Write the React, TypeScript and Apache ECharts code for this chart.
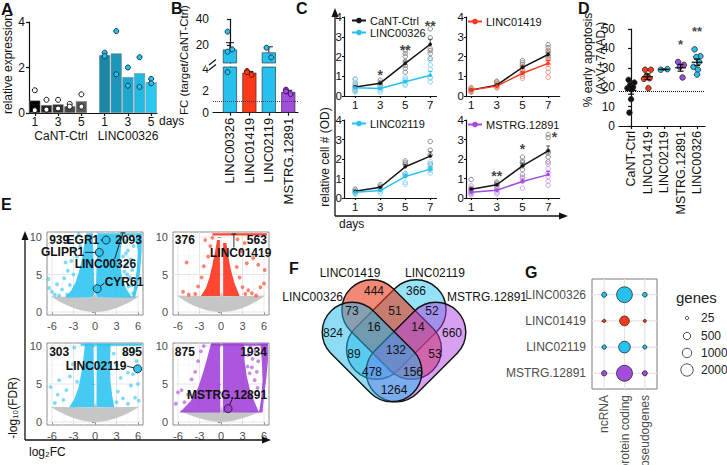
import React, { useEffect, useRef } from 'react';
import * as echarts from 'echarts';

const FONT = '"Liberation Sans", Arial, Helvetica, sans-serif';
const INK = '#111111';
const CYAN = '#27c1ef';
const RED = '#ff3a1c';
const PURPLE = '#a34ddd';

// ---------- A ----------
const aDays = ['1', '2', '3', '4', '5'];
const aCtrlMean = [0.55, 0.35, 0.38, 0.3, 0.52];
const aCtrlRepHigh = [1.0, 0.58, 0.58, 0.4, 0.82];
const aCtrlRepLow = [0.12, 0.15, 0.2, 0.28, 0.28];
const aLincMean = [2.55, 2.62, 1.58, 1.75, 1.35];
const aLincRepHigh = [2.65, 3.6, 2.0, 2.45, 1.5];
const aLincRepLow = [2.5, 1.7, 1.2, 1.15, 1.3];
const aCtrlColors = ['#000000', '#262626', '#333333', '#454545', '#5a5a5a'];
const aLincColors = ['#1a87a5', '#1c97b9', '#1fa8ce', '#23b8e1', '#2ac8f3'];

// ---------- B ----------
const bNames = ['LINC00326', 'LINC01419', 'LINC02119', 'MSTRG.12891'];
const bMean = [16.4, 3.65, 14.2, 1.9];
const bSem = [5.4, 0.12, 4.4, 0.14];
const bReps = [[30.4, 16.6, 14.8, 3.7], [3.8, 3.45, 3.7], [17.9, 10.4], [2.1, 1.7, 1.95]];
const bTicksUpper = [20, 40];
const bTicksLower = [0, 2, 4];

// ---------- C ----------
const cDays = [1, 3, 5, 7];
const cNames = ['LINC00326', 'LINC01419', 'LINC02119', 'MSTRG.12891'];
const c1Ctrl = [0.45, 0.65, 1.65, 2.62];
const c1Lnc = [0.42, 0.38, 0.72, 1.05];
const c1CtrlSem = [0.06, 0.05, 0.12, 0.25];
const c1LncSem = [0.06, 0.04, 0.06, 0.2];
const c1CtrlReps = [[0.85, 0.6, 0.5, 0.45, 0.35, 0.3], [0.8, 0.68, 0.6, 0.55, 0.45], [2.3, 2.15, 2.0, 1.75, 1.55, 1.4, 1.2], [3.4, 2.95, 2.4, 2.3, 2.15, 1.9]];
const c1LncReps = [[0.85, 0.7, 0.5, 0.35, 0.25, 0.2], [0.45, 0.38, 0.3, 0.2], [0.95, 0.85, 0.75, 0.62, 0.55], [1.82, 1.57, 1.35, 0.95, 0.9, 0.72]];
const c1StarPos = [[3, 1.05], [5, 2.35], [7, 3.55]];
const c1StarText = ['*', '**', '**'];

const c2Ctrl = [0.3, 0.55, 1.45, 2.1];
const c2Lnc = [0.3, 0.5, 1.15, 1.65];
const c2CtrlSem = [0.04, 0.05, 0.08, 0.12];
const c2LncSem = [0.04, 0.04, 0.08, 0.15];
const c2CtrlReps = [[0.42, 0.36, 0.3, 0.25, 0.2], [0.75, 0.7, 0.62, 0.55, 0.47], [1.8, 1.7, 1.6, 1.5, 1.35, 1.2], [2.6, 2.45, 2.3, 2.2, 2.05, 1.9]];
const c2LncReps = [[0.4, 0.32, 0.25, 0.2], [0.6, 0.52, 0.45, 0.4], [1.5, 1.32, 1.2, 1.1, 1.0, 0.9], [2.3, 1.95, 1.8, 1.6, 1.4, 1.2, 0.95]];

const c3Ctrl = [0.35, 0.55, 1.6, 2.15];
const c3Lnc = [0.3, 0.38, 1.1, 1.48];
const c3CtrlSem = [0.04, 0.04, 0.12, 0.22];
const c3LncSem = [0.04, 0.04, 0.1, 0.12];
const c3CtrlReps = [[0.45, 0.4, 0.3, 0.25], [0.68, 0.6, 0.5], [1.9, 1.8, 1.72, 1.25, 1.15], [2.9, 2.45, 2.2, 1.74, 1.45]];
const c3LncReps = [[0.35, 0.28, 0.2], [0.45, 0.35, 0.25], [1.25, 1.15, 0.8, 0.7], [1.86, 1.6, 1.55, 1.45, 1.28]];

const c4Ctrl = [0.45, 0.68, 1.65, 2.42];
const c4Lnc = [0.3, 0.4, 0.85, 1.2];
const c4CtrlSem = [0.08, 0.04, 0.14, 0.25];
const c4LncSem = [0.06, 0.04, 0.12, 0.16];
const c4CtrlReps = [[0.95, 0.5, 0.42, 0.32, 0.25], [0.82, 0.75, 0.7, 0.62, 0.55], [2.1, 1.9, 1.8, 1.65, 1.45, 1.2, 1.05], [3.25, 3.1, 2.4, 2.3, 2.1, 1.85]];
const c4LncReps = [[0.62, 0.48, 0.32, 0.22, 0.15], [0.5, 0.4, 0.3, 0.22], [1.2, 1.05, 0.85, 0.5], [1.75, 1.5, 1.3, 1.1, 0.85, 0.65]];
const c4StarPos = [[3, 1.15], [5, 2.5], [7.5, 3.15]];
const c4StarText = ['**', '*', '*'];

// ---------- D ----------
const dNames = ['CaNT-Ctrl', 'LINC01419', 'LINC02119', 'MSTRG.12891', 'LINC00326'];
const dReps = [
  [23.8, 22.4, 21.2, 20, 19.5, 19, 13.8, 6.9],
  [29, 29, 25.9, 24.6, 24.3, 19.5],
  [29, 29.3],
  [33, 31.5, 30.5, 25],
  [39.5, 36, 35.5, 33, 30.5, 29, 26.5],
];
const dStarPos = [[3, 42], [4, 48.5]];
const dStarText = ['*', '**'];
const dBaseline = 18;

// ---------- E ----------
const eCountsDown = [939, 376, 303, 875];
const eCountsUp = [2093, 563, 895, 1934];
const eMajorX = [-6, -3, 0, 3, 6];
const eMinorX = [-4.5, -1.5, 1.5, 4.5];
const eMajorY = [0, 5, 10];
const eMinorY = [2.5, 7.5];
const eGrayTL = [[-6.2, 2.1], [-5, 1.4], [-4, 0.95], [-3, 0.55], [-2, 0.25], [-1, 0.07], [0, 0], [1, 0.07], [2, 0.25], [3, 0.55], [4, 0.95], [5, 1.4], [6.2, 2.1], [0.3, 1.9], [0.02, 2.5], [-0.3, 1.9]];
const eGrayTR = [[-6.2, 2.2], [-5, 1.45], [-4, 0.95], [-3, 0.55], [-2, 0.25], [-1, 0.07], [0, 0], [1, 0.07], [2, 0.25], [3, 0.55], [4, 0.95], [5, 1.45], [6.2, 2.2], [0.3, 2.1], [0.05, 2.7], [-0.2, 2.1]];
const eGrayBL = [[-6.2, 2.0], [-5, 1.35], [-4, 0.9], [-3, 0.52], [-2, 0.24], [-1, 0.07], [0, 0], [1, 0.07], [2, 0.24], [3, 0.52], [4, 0.9], [5, 1.35], [6.2, 2.0], [0.25, 1.9], [0.02, 2.5], [-0.2, 1.9]];
const eGrayBR = [[-6, 1.5], [-5, 1.15], [-4, 0.8], [-3, 0.5], [-2, 0.22], [-1, 0.06], [0, 0], [1, 0.06], [2, 0.22], [3, 0.5], [4, 0.8], [5, 1.15], [6, 1.5], [0.3, 1.3], [0.05, 2.2], [-0.2, 1.3]];
const eTLpolys = [
  [[-0.3, 10.5], [-1.2, 10.5], [-1.5, 9], [-1.8, 7.2], [-2.2, 5.5], [-2.7, 4.0], [-3.3, 2.9], [-4.2, 1.95], [-0.3, 1.95], [-0.08, 2.5]],
  [[0.35, 10.5], [4.0, 10.5], [3.6, 8.5], [3.5, 6.5], [3.8, 4.5], [4.4, 3.0], [5.2, 1.95], [0.3, 1.95], [0.1, 2.5]],
  [[5.6, 10.5], [6.55, 10.5], [6.5, 8], [6.3, 5.5], [6.0, 3.5], [5.6, 1.95], [5.2, 1.95], [5.5, 3.5], [5.8, 5.5], [6.0, 8]],
  [[4.0, 10.2], [5.6, 10.2], [5.6, 10.5], [4.0, 10.5]],
];
const eTRpolys = [
  [[-0.15, 9.6], [-0.55, 9.6], [-0.8, 8.2], [-1.15, 6.5], [-1.6, 4.6], [-2.1, 3.2], [-2.8, 2.15], [-0.15, 2.15]],
  [[0.3, 9.2], [0.75, 9.2], [1.0, 7.5], [1.4, 5.5], [1.9, 3.8], [2.6, 2.15], [0.3, 2.15]],
  [[-1.2, 10.2], [6.4, 10.2], [6.4, 10.5], [-1.2, 10.5]],
];
const eBLpolys = [
  [[-0.2, 10.3], [-1.4, 10.3], [-1.6, 8.5], [-1.9, 6.5], [-2.3, 4.5], [-2.9, 3.0], [-3.6, 1.95], [-0.1, 1.95]],
  [[0.25, 10.3], [2.2, 10.3], [2.1, 8], [2.15, 5.5], [2.4, 3.5], [2.7, 1.95], [0.2, 1.95]],
  [[-2.0, 10.05], [6.55, 10.05], [6.55, 10.35], [-2.0, 10.35]],
];
const eBRpolys = [
  [[-0.15, 10.35], [-1.4, 10.35], [-1.9, 8.5], [-2.5, 6.5], [-3.2, 4.5], [-4.2, 2.8], [-5.3, 1.7], [-5.8, 1.25], [-0.1, 1.25]],
  [[0.3, 10.35], [3.2, 10.35], [3.3, 8], [3.6, 6], [4.1, 4], [4.7, 2.6], [5.3, 1.25], [0.25, 1.25]],
  [[5.5, 10.35], [6.55, 10.35], [6.55, 8], [6.3, 5.5], [6.0, 3.5], [5.8, 1.25], [5.3, 1.25], [5.6, 3], [5.8, 5.5], [5.7, 8]],
  [[-1.4, 10.05], [6.55, 10.05], [6.55, 10.35], [-1.4, 10.35]],
];
const eTLout = [[-6.4, 3.2], [-6.0, 2.7], [-5.6, 2.3], [-5.0, 2.2], [-4.6, 3.0], [-6.5, 4.4], [-4.3, 4.5], [-3.8, 5.5], [-4.1, 6.6], [-3.3, 6.8], [-2.9, 8.2], [-3.6, 9.3], [-2.6, 9.9], [-5.3, 3.7], [-3.5, 3.6], [-2.3, 10.4], [-2.5, 7.4], [-3.0, 5.0], [-3.9, 2.3], [-2.1, 8.8],
  [4.2, 9.5], [4.6, 8.2], [5.0, 7.0], [4.4, 6.3], [5.2, 5.6], [4.9, 4.6], [5.4, 8.8], [3.9, 7.4], [4.8, 9.9], [5.1, 3.6], [4.1, 5.4], [4.7, 3.4], [5.3, 2.5], [4.3, 7.8], [5.6, 9.6], [4.5, 5.0]];
const eTRout = [[-4.8, 6.6], [-5.3, 2.7], [-4.5, 2.3], [-3.6, 2.4], [-3.2, 3.4], [-2.7, 4.6], [-2.4, 6.1], [-1.8, 7.4], [-1.5, 8.8], [-2.2, 9.6], [-1.2, 9.9], [2.6, 4.6], [3.0, 3.3], [3.4, 2.4], [3.8, 2.9], [4.3, 2.5], [4.9, 2.2], [5.5, 3.3], [6.0, 3.8], [6.1, 5.6], [5.2, 6.3], [3.6, 6.5], [2.8, 8.1], [3.3, 9.2], [4.5, 7.2], [2.2, 6.0], [2.3, 9.7]];
const eBLout = [[-6.2, 4.6], [-5.6, 2.5], [-5.2, 3.6], [-5.0, 5.5], [-4.4, 2.9], [-4.0, 4.2], [-3.5, 6.0], [-3.1, 7.6], [-2.9, 9.8], [-2.5, 5.3], [3.0, 2.6], [3.2, 4.0], [3.6, 5.8], [3.9, 3.1], [4.2, 8.9], [4.6, 2.4], [5.0, 4.8], [5.3, 6.3], [5.6, 3.2], [5.8, 8.0], [6.1, 2.8], [6.0, 5.0], [2.6, 9.0], [3.0, 7.5], [4.6, 6.5], [5.5, 9.3]];
const eBRout = [[-6.3, 2.4], [-6.0, 3.9], [-5.5, 4.2], [-5.1, 2.6], [-4.6, 3.6], [-4.1, 5.6], [-3.6, 6.6], [-3.2, 8.0], [-2.8, 9.3], [-2.4, 10.0], [4.3, 7.2], [4.7, 5.5], [5.1, 4.5], [5.2, 8.0], [4.8, 9.3], [4.1, 9.9], [3.8, 8.8], [4.0, 6.4], [4.4, 8.3], [5.0, 6.6], [3.7, 7.3]];
const eAnnoGene = ['EGR1', 'GLIPR1', 'LINC00326', 'CYR61', 'LINC01419', 'LINC02119', 'MSTRG.12891'];
const eAnnoPanel = [0, 0, 0, 0, 1, 2, 3];
const eAnnoPoint = [[1.55, 9.6], [0.6, 7.95], [3.9, 10.55], [0.3, 3.1], [1.8, 10.4], [5.95, 7.0], [1.0, 1.75]];
const eAnnoLineEnd = [[0.8, 9.6], [-1.4, 7.95], [2.75, 7.1], [1.3, 3.85], [1.8, 8.6], [4.45, 7.35], [1.55, 3.0]];
const eAnnoLabel = [[0.6, 9.6], [-1.5, 7.95], [1.45, 6.4], [1.35, 3.95], [2.75, 7.85], [4.4, 7.4], [0.85, 3.6]];
const eAnnoAlign = ['right', 'right', 'center', 'left', 'center', 'right', 'center'];
const eAnnoCircle = [true, true, false, true, false, true, true];

// ---------- F ----------
const vennNames = ['LINC00326', 'LINC01419', 'LINC02119', 'MSTRG.12891'];
const vennCounts = [824, 444, 366, 660, 73, 51, 52, 16, 14, 89, 132, 53, 478, 156, 1264];

// ---------- G ----------
const gRows = ['MSTRG.12891', 'LINC02119', 'LINC01419', 'LINC00326'];
const gCols = ['ncRNA', 'protein coding', 'pseudogenes'];
const gGenes = [[180, 3700, 145], [80, 1750, 60], [20, 1100, 10], [150, 3600, 115]];
const gLegendVals = [25, 500, 1000, 2000];

const gSize = (n: number) => 2.3 + 0.224 * Math.sqrt(n);

function buildOption() {
  const grid: any[] = [];
  const xAxis: any[] = [];
  const yAxis: any[] = [];
  const series: any[] = [];
  const legend: any[] = [];
  const graphic: any[] = [];
  const add = (g: any, x: any, y: any) => {
    grid.push({ outerBoundsMode: 'none', containLabel: false, ...g });
    const i = grid.length - 1;
    xAxis.push({ gridIndex: i, ...x });
    yAxis.push({ gridIndex: i, ...y });
    return i;
  };
  const lbl = (o: any = {}) => ({ color: INK, fontSize: 11.5, fontFamily: FONT, ...o });
  const bLine = { show: true, lineStyle: { color: INK, width: 1.2 } };
  const bTick = (o: any = {}) => ({ show: true, length: 3, lineStyle: { color: INK, width: 1.2 }, ...o });
  const noSplit = { show: false };

  const T = (text: string, x: number, y: number, o: any = {}) => ({
    type: 'text', x, y, rotation: o.rot || 0, silent: true, z: 10,
    style: {
      text, fill: o.fill || INK, fontSize: o.size || 12, fontWeight: o.weight || 'normal', fontFamily: FONT,
      align: o.align || 'left', verticalAlign: 'middle', textAlign: o.align || 'left', textVerticalAlign: 'middle',
    },
  });
  const L = (x1: number, y1: number, x2: number, y2: number, w = 1.2, c = INK) => ({
    type: 'line', silent: true, z: 10, shape: { x1, y1, x2, y2 }, style: { stroke: c, lineWidth: w },
  });
  const P = (pts: number[][], c = INK) => ({ type: 'polygon', silent: true, z: 10, shape: { points: pts }, style: { fill: c } });

  const errSeries = (gi: number, data: number[][], color: string, cap: number) => ({
    type: 'custom', xAxisIndex: gi, yAxisIndex: gi, z: 4, silent: true, data,
    renderItem: (params: any, api: any) => {
      const x = api.value(0), m = api.value(1), s = api.value(2);
      const a = api.coord([x, m]);
      const b = api.coord([x, m + s]);
      return {
        type: 'group', children: [
          { type: 'line', shape: { x1: a[0], y1: a[1], x2: b[0], y2: b[1] }, style: { stroke: color, lineWidth: 1 } },
          { type: 'line', shape: { x1: b[0] - cap, y1: b[1], x2: b[0] + cap, y2: b[1] }, style: { stroke: color, lineWidth: 1 } },
        ],
      };
    },
  });
  const starSeries = (gi: number, pos: number[][], texts: string[], size = 14) => ({
    type: 'scatter', xAxisIndex: gi, yAxisIndex: gi, symbol: 'circle', symbolSize: 1, silent: true, z: 6,
    itemStyle: { color: 'rgba(0,0,0,0)' }, data: pos,
    label: { show: true, position: 'inside', formatter: (p: any) => texts[p.dataIndex], fontSize: size, fontWeight: 'bold', color: INK, fontFamily: FONT },
  });

  // ================= A =================
  const aCats = [...aDays, '', ...aDays];
  const aShow = (i: number) => aCats[i] === '1' || aCats[i] === '3' || aCats[i] === '5';
  const gA = add({ left: 29, top: 22, width: 128, height: 91 },
    { type: 'category', data: aCats, axisLine: bLine, axisTick: bTick({ alignWithLabel: true, interval: (i: number) => aShow(i) }), axisLabel: lbl({ interval: (i: number) => aShow(i), fontSize: 12, margin: 3 }) },
    { type: 'value', min: 0, max: 4, interval: 2, axisLine: bLine, axisTick: bTick(), axisLabel: lbl({ fontSize: 12, margin: 4 }), splitLine: noSplit });
  series.push({
    type: 'bar', name: 'A-bars', xAxisIndex: gA, yAxisIndex: gA, barCategoryGap: '5%', z: 2,
    data: aCats.map((_, i) => i < 5 ? { value: aCtrlMean[i], itemStyle: { color: aCtrlColors[i] } } : i === 5 ? '-' : { value: aLincMean[i - 6], itemStyle: { color: aLincColors[i - 6] } }),
    itemStyle: { borderColor: '#8a8a8a', borderWidth: 0.5 },
  });
  series.push({
    type: 'scatter', name: 'A-ctrl-dots', xAxisIndex: gA, yAxisIndex: gA, symbolSize: 5, z: 3,
    data: [...aCtrlRepHigh.map((v, i) => [i, v]), ...aCtrlRepLow.map((v, i) => [i, v])],
    itemStyle: { color: '#ffffff', borderColor: INK, borderWidth: 1, opacity: 1 },
  });
  series.push({
    type: 'scatter', name: 'A-linc-dots', xAxisIndex: gA, yAxisIndex: gA, symbolSize: 5, z: 3,
    data: [...aLincRepHigh.map((v, i) => [i + 6, v]), ...aLincRepLow.map((v, i) => [i + 6, v])],
    itemStyle: { color: CYAN, borderColor: '#0d3c4c', borderWidth: 1, opacity: 1 },
  });

  // ================= B =================
  const bColors = [CYAN, RED, CYAN, PURPLE];
  const bBorders = ['#0b3b4b', '#6b1000', '#0b3b4b', '#3c0f5c'];
  const bx = { type: 'value', min: -0.87, max: 3.5 };
  const gBu = add({ left: 213, top: 19.3, width: 85, height: 43.7 },
    { ...bx, show: false },
    { type: 'value', min: 6, max: 40, axisLine: bLine, axisTick: bTick({ customValues: bTicksUpper }), axisLabel: lbl({ customValues: bTicksUpper, fontSize: 12, margin: 4 }), splitLine: noSplit });
  const gBl = add({ left: 213, top: 67, width: 85, height: 45.7 },
    { ...bx, axisLine: bLine, axisTick: bTick({ customValues: [0, 1, 2, 3] }), axisLabel: lbl({ customValues: [0, 1, 2, 3], formatter: (v: number) => bNames[Math.round(v)] || '', rotate: 90, fontSize: 13, margin: 5 }), splitLine: noSplit },
    { type: 'value', min: 0, max: 4.17, axisLine: bLine, axisTick: bTick({ customValues: bTicksLower }), axisLabel: lbl({ customValues: bTicksLower, fontSize: 12, margin: 4 }), splitLine: noSplit });
  [gBu, gBl].forEach((gi, k) => {
    series.push({
      type: 'bar', name: 'B-bars-' + k, xAxisIndex: gi, yAxisIndex: gi, barWidth: 14, clip: true, z: 2,
      data: bMean.map((v, i) => ({ value: [i, v], itemStyle: { color: bColors[i] } })),
      itemStyle: { borderColor: '#222', borderWidth: 0.6 },
      markLine: k === 1 ? { silent: true, symbol: 'none', label: { show: false }, lineStyle: { type: 'dotted', color: '#444', width: 1 }, data: [{ yAxis: 1 }] } : undefined,
    });
    const lim = (v: number) => (k === 0 ? v > 6 : v <= 4.17);
    series.push(errSeries(gi, bMean.map((m, i) => [i, m, bSem[i]]).filter((d) => lim(d[1])), INK, 4));
    bReps.forEach((reps, i) => {
      series.push({
        type: 'scatter', name: 'B-dots', xAxisIndex: gi, yAxisIndex: gi, symbolSize: 5, z: 5,
        data: reps.filter(lim).map((v, j) => [i + (j % 2 === 0 ? -0.12 : 0.12), v]),
        itemStyle: { color: bColors[i], borderColor: bBorders[i], borderWidth: 1, opacity: 1 },
      });
    });
  });

  // ================= C =================
  const cCtrl = [c1Ctrl, c2Ctrl, c3Ctrl, c4Ctrl];
  const cLnc = [c1Lnc, c2Lnc, c3Lnc, c4Lnc];
  const cCtrlSem = [c1CtrlSem, c2CtrlSem, c3CtrlSem, c4CtrlSem];
  const cLncSem = [c1LncSem, c2LncSem, c3LncSem, c4LncSem];
  const cCtrlReps = [c1CtrlReps, c2CtrlReps, c3CtrlReps, c4CtrlReps];
  const cLncReps = [c1LncReps, c2LncReps, c3LncReps, c4LncReps];
  const cColors = [CYAN, RED, CYAN, PURPLE];
  const cLight = ['#86d9f6', '#ff9282', '#86d9f6', '#d59cf0'];
  const cBox = [
    { left: 344, top: 17, width: 92.5, height: 79, min: 0.1, max: 7.5 },
    { left: 466, top: 17, width: 93.7, height: 79, min: 0.6, max: 7.9 },
    { left: 344, top: 120, width: 92.5, height: 78, min: 0.1, max: 7.5 },
    { left: 466, top: 120, width: 93.7, height: 78, min: 0.6, max: 7.9 },
  ];
  const cLegendPos = [[351, 15], [467, 16], [351, 118], [467, 119]];
  cBox.forEach((b, k) => {
    const gi = add({ left: b.left, top: b.top, width: b.width, height: b.height },
      { type: 'value', min: b.min, max: b.max, axisLine: bLine, axisTick: bTick({ length: 2, customValues: cDays }), axisLabel: lbl({ customValues: cDays, fontSize: 11.5, margin: 3 }), splitLine: noSplit },
      { type: 'value', min: 0, max: 4, interval: 1, axisLine: bLine, axisTick: bTick({ length: 2 }), axisLabel: lbl({ fontSize: 11.5, margin: 2 }), splitLine: noSplit });
    const flat = (reps: number[][]) => reps.flatMap((arr, d) => arr.map((v) => [cDays[d], v]));
    series.push({ type: 'scatter', name: 'C-ctrl-reps', xAxisIndex: gi, yAxisIndex: gi, symbolSize: 4.5, z: 2, data: flat(cCtrlReps[k]), itemStyle: { color: 'rgba(0,0,0,0)', borderColor: '#8a8a8a', borderWidth: 1, opacity: 1 } });
    series.push({ type: 'scatter', name: 'C-lnc-reps', xAxisIndex: gi, yAxisIndex: gi, symbolSize: 4.5, z: 2, data: flat(cLncReps[k]), itemStyle: { color: 'rgba(0,0,0,0)', borderColor: cLight[k], borderWidth: 1, opacity: 1 } });
    series.push({ type: 'line', name: 'CaNT-Ctrl', xAxisIndex: gi, yAxisIndex: gi, z: 4, data: cDays.map((d, i) => [d, cCtrl[k][i]]), color: '#151515', lineStyle: { width: 1.5 }, symbol: 'circle', symbolSize: 3.5 });
    series.push({ type: 'line', name: cNames[k], xAxisIndex: gi, yAxisIndex: gi, z: 4, data: cDays.map((d, i) => [d, cLnc[k][i]]), color: cColors[k], lineStyle: { width: 1.5 }, symbol: 'circle', symbolSize: 3.5 });
    series.push(errSeries(gi, cDays.map((d, i) => [d, cCtrl[k][i], cCtrlSem[k][i]]), '#555', 2));
    series.push(errSeries(gi, cDays.map((d, i) => [d, cLnc[k][i], cLncSem[k][i]]), cColors[k], 2));
    if (k === 0) series.push(starSeries(gi, c1StarPos, c1StarText));
    if (k === 3) series.push(starSeries(gi, c4StarPos, c4StarText));
    legend.push({
      left: cLegendPos[k][0], top: cLegendPos[k][1], orient: 'vertical', itemWidth: 14, itemHeight: 7, itemGap: 1, padding: 0,
      selectedMode: false, data: k === 0 ? ['CaNT-Ctrl', cNames[0]] : [cNames[k]],
      textStyle: { fontSize: 11, fontFamily: FONT, color: INK, lineHeight: 10, padding: [0, 0, 0, -1] },
    });
  });

  // ================= D =================
  const dColors = ['#111111', RED, CYAN, PURPLE, CYAN];
  const dJit = [-0.15, 0.2, -0.05, 0.12, -0.22, 0.05, 0, -0.1];
  const gD = add({ left: 619, top: 29, width: 86, height: 97 },
    { type: 'value', min: -0.73, max: 4.48, axisLine: bLine, axisTick: bTick({ customValues: [0, 1, 2, 3, 4] }), axisLabel: lbl({ customValues: [0, 1, 2, 3, 4], formatter: (v: number) => dNames[Math.round(v)] || '', rotate: 90, fontSize: 12.5, margin: 5 }), splitLine: noSplit },
    { type: 'value', min: 0, max: 50, interval: 10, axisLine: bLine, axisTick: bTick(), axisLabel: lbl({ fontSize: 12, margin: 4 }), splitLine: noSplit });
  dReps.forEach((reps, i) => {
    series.push({
      type: 'scatter', name: 'D-dots', xAxisIndex: gD, yAxisIndex: gD, symbolSize: 5.5, z: 3,
      data: reps.map((v, j) => [i + (reps.length > 2 ? dJit[j % dJit.length] : j === 0 ? -0.2 : 0.2), v]),
      itemStyle: { color: dColors[i], borderColor: '#222', borderWidth: 0.8, opacity: 1 },
      markLine: i === 0 ? { silent: true, symbol: 'none', label: { show: false }, lineStyle: { type: 'dotted', color: INK, width: 1 }, data: [{ yAxis: dBaseline }] } : undefined,
    });
  });
  const dStats = dReps.map((reps, i) => {
    const m = reps.reduce((a, b) => a + b, 0) / reps.length;
    const sd = Math.sqrt(reps.reduce((a, b) => a + (b - m) * (b - m), 0) / Math.max(1, reps.length - 1));
    return [i, m, sd / Math.sqrt(reps.length)];
  });
  series.push({
    type: 'custom', name: 'D-mean', xAxisIndex: gD, yAxisIndex: gD, z: 5, silent: true, data: dStats,
    renderItem: (params: any, api: any) => {
      const x = api.value(0), m = api.value(1), s = api.value(2);
      const l = api.coord([x - 0.33, m]), r = api.coord([x + 0.33, m]);
      const lo = api.coord([x, m - s]), hi = api.coord([x, m + s]);
      const st = { stroke: INK, lineWidth: 1.2 };
      return {
        type: 'group', children: [
          { type: 'line', shape: { x1: l[0], y1: l[1], x2: r[0], y2: r[1] }, style: st },
          { type: 'line', shape: { x1: lo[0], y1: lo[1], x2: hi[0], y2: hi[1] }, style: st },
          { type: 'line', shape: { x1: lo[0] - 3, y1: lo[1], x2: lo[0] + 3, y2: lo[1] }, style: st },
          { type: 'line', shape: { x1: hi[0] - 3, y1: hi[1], x2: hi[0] + 3, y2: hi[1] }, style: st },
        ],
      };
    },
  });
  series.push(starSeries(gD, dStarPos, dStarText, 13));

  // ================= E =================
  const eBoxes = [
    { left: 47, top: 232, height: 83, ymax: 10.67, ymin: -0.4 },
    { left: 173, top: 232, height: 83, ymax: 10.67, ymin: -0.4 },
    { left: 47, top: 343, height: 82, ymax: 10.4, ymin: -0.4 },
    { left: 173, top: 343, height: 82, ymax: 10.4, ymin: -0.4 },
  ];
  const eGray = [eGrayTL, eGrayTR, eGrayBL, eGrayBR];
  const ePolys = [eTLpolys, eTRpolys, eBLpolys, eBRpolys];
  const eOut = [eTLout, eTRout, eBLout, eBRout];
  const eColors = ['#2bc3f1', '#ff2e18', '#2bc3f1', '#a13fd9'];
  const eCountY = [9.6, 9.6, 9.2, 9.2];
  const axGray = '#4d4d4d';
  eBoxes.forEach((b, k) => {
    const gi = add({ left: b.left, top: b.top, width: 96, height: b.height, show: true, borderColor: '#8c8c8c', borderWidth: 1, backgroundColor: '#ffffff' },
      { type: 'value', min: -6.7, max: 6.7, axisLine: { show: false }, axisTick: { show: true, length: 3, customValues: eMajorX, lineStyle: { color: axGray } }, axisLabel: lbl({ customValues: eMajorX, color: axGray, fontSize: 11, margin: 5 }), splitLine: noSplit },
      { type: 'value', min: b.ymin, max: b.ymax, axisLine: { show: false }, axisTick: { show: true, length: 3, customValues: eMajorY, lineStyle: { color: axGray } }, axisLabel: lbl({ customValues: eMajorY, color: axGray, fontSize: 11, margin: 5 }), splitLine: noSplit });
    const vls = (vals: number[], c: string, w: number) => ({
      type: 'custom', xAxisIndex: gi, yAxisIndex: gi, z: 1, silent: true, data: vals.map((v) => [v, 0]),
      renderItem: (params: any, api: any) => {
        const cs = params.coordSys; const x = api.coord([api.value(0), 0])[0];
        return { type: 'line', shape: { x1: x, y1: cs.y, x2: x, y2: cs.y + cs.height }, style: { stroke: c, lineWidth: w } };
      },
    });
    const hls = (vals: number[], c: string, w: number) => ({
      type: 'custom', xAxisIndex: gi, yAxisIndex: gi, z: 1, silent: true, data: vals.map((v) => [0, v]),
      renderItem: (params: any, api: any) => {
        const cs = params.coordSys; const y = api.coord([0, api.value(1)])[1];
        return { type: 'line', shape: { x1: cs.x, y1: y, x2: cs.x + cs.width, y2: y }, style: { stroke: c, lineWidth: w } };
      },
    });
    series.push(vls(eMinorX, '#f3f3f3', 0.6), hls(eMinorY, '#f3f3f3', 0.6), vls(eMajorX, '#e4e4e4', 0.9), hls(eMajorY, '#e4e4e4', 0.9));
    const polys = [eGray[k], ...ePolys[k]];
    series.push({
      type: 'custom', xAxisIndex: gi, yAxisIndex: gi, z: 2, silent: true, data: polys.map((p) => p[0]),
      renderItem: (params: any, api: any) => ({
        type: 'polygon', shape: { points: polys[params.dataIndex].map((q) => api.coord(q)) },
        style: { fill: params.dataIndex === 0 ? '#c6c6c6' : eColors[k], opacity: params.dataIndex === 0 ? 1 : 0.88 },
      }),
    });
    series.push({ type: 'scatter', xAxisIndex: gi, yAxisIndex: gi, z: 3, silent: true, symbolSize: 3.8, data: eOut[k], itemStyle: { color: eColors[k], opacity: 0.6 } });
    const annIdx = eAnnoPanel.map((p, i) => (p === k ? i : -1)).filter((i) => i >= 0);
    series.push({
      type: 'custom', xAxisIndex: gi, yAxisIndex: gi, z: 6, silent: true, data: annIdx.map((i) => eAnnoPoint[i]),
      renderItem: (params: any, api: any) => {
        const i = annIdx[params.dataIndex];
        const pt = api.coord(eAnnoPoint[i]); const le = api.coord(eAnnoLineEnd[i]); const lb = api.coord(eAnnoLabel[i]);
        const ch: any[] = [{ type: 'line', shape: { x1: pt[0], y1: pt[1], x2: le[0], y2: le[1] }, style: { stroke: INK, lineWidth: 0.9 } }];
        if (eAnnoCircle[i]) ch.push({ type: 'circle', shape: { cx: pt[0], cy: pt[1], r: 4 }, style: { fill: eColors[k], stroke: '#222', lineWidth: 0.9 } });
        else ch.push({ type: 'line', shape: { x1: pt[0] - 2.5, y1: pt[1], x2: pt[0] + 2.5, y2: pt[1] }, style: { stroke: INK, lineWidth: 0.9 } });
        ch.push({ type: 'text', x: lb[0], y: lb[1], style: { text: eAnnoGene[i], fill: INK, fontSize: 12, fontWeight: 'bold', fontFamily: FONT, align: eAnnoAlign[i], verticalAlign: 'middle', textAlign: eAnnoAlign[i], textVerticalAlign: 'middle' } });
        return { type: 'group', children: ch };
      },
    });
    const cnt = [[k % 2 === 0 ? -6.4 : -6.45, eCountY[k]], [k % 2 === 0 ? 6.55 : 6.4, eCountY[k]]];
    const cntTxt = [String(eCountsDown[k]), String(eCountsUp[k])];
    series.push({
      type: 'custom', xAxisIndex: gi, yAxisIndex: gi, z: 6, silent: true, data: cnt,
      renderItem: (params: any, api: any) => {
        const p = api.coord(cnt[params.dataIndex]);
        const al = params.dataIndex === 0 ? 'left' : 'right';
        return { type: 'text', x: p[0], y: p[1], style: { text: cntTxt[params.dataIndex], fill: INK, fontSize: 12, fontWeight: 'bold', fontFamily: FONT, align: al, verticalAlign: 'middle', textAlign: al, textVerticalAlign: 'middle' } };
      },
    });
  });

  // ================= G =================
  const gColors = [PURPLE, CYAN, RED, CYAN];
  const gi = add({ left: 592, top: 279, width: 65, height: 110, show: true, borderColor: '#7a7a7a', borderWidth: 1, backgroundColor: '#ffffff' },
    { type: 'value', min: -0.6, max: 2.6, axisLine: { show: false }, axisTick: { show: true, length: 3, customValues: [0, 1, 2], lineStyle: { color: '#333' } }, axisLabel: lbl({ customValues: [0, 1, 2], formatter: (v: number) => gCols[Math.round(v)] || '', rotate: 90, color: axGray, fontSize: 12, margin: 6 }), splitLine: noSplit },
    { type: 'value', min: -0.6, max: 3.6, axisLine: { show: false }, axisTick: { show: true, length: 3, customValues: [0, 1, 2, 3], lineStyle: { color: '#333' } }, axisLabel: lbl({ customValues: [0, 1, 2, 3], formatter: (v: number) => gRows[Math.round(v)] || '', color: axGray, fontSize: 12, margin: 6 }), splitLine: noSplit });
  series.push({
    type: 'custom', xAxisIndex: gi, yAxisIndex: gi, z: 1, silent: true, data: [[0, 0], [1, 0], [2, 0], [0, 0], [0, 1], [0, 2], [0, 3]],
    renderItem: (params: any, api: any) => {
      const cs = params.coordSys; const i = params.dataIndex;
      if (i < 3) { const x = api.coord([api.value(0), 0])[0]; return { type: 'line', shape: { x1: x, y1: cs.y, x2: x, y2: cs.y + cs.height }, style: { stroke: '#e6e6e6', lineWidth: 1.2 } }; }
      const y = api.coord([0, api.value(1)])[1];
      return { type: 'line', shape: { x1: cs.x, y1: y, x2: cs.x + cs.width, y2: y }, style: { stroke: '#e6e6e6', lineWidth: 1.2 } };
    },
  });
  gGenes.forEach((row, r) => {
    series.push({
      type: 'scatter', name: 'G-' + r, xAxisIndex: gi, yAxisIndex: gi, z: 3,
      data: row.map((n, c) => [c, r, n]),
      symbolSize: (v: number[]) => gSize(v[2]),
      itemStyle: { color: gColors[r], borderColor: '#111', borderWidth: 0.7, opacity: 1 },
    });
  });

  // ================= graphics =================
  graphic.push(T('A', 1, 9, { size: 17, weight: 'bold' }), T('B', 171, 8, { size: 16, weight: 'bold' }), T('C', 296, 8, { size: 16, weight: 'bold' }),
    T('D', 578, 8, { size: 16, weight: 'bold' }), T('E', 1, 204, { size: 16, weight: 'bold' }), T('F', 289, 268, { size: 16, weight: 'bold' }), T('G', 525, 272, { size: 16, weight: 'bold' }));
  // A
  graphic.push(T('relative expression', 8, 64, { rot: Math.PI / 2, align: 'center', size: 12 }),
    T('CaNT-Ctrl', 61, 136, { align: 'center', size: 12 }), T('LINC00326', 128, 136, { align: 'center', size: 12 }), T('days', 159, 121, { size: 12 }));
  // B
  graphic.push(T('FC (target/CaNT-Ctrl)', 184, 60, { rot: Math.PI / 2, align: 'center', size: 11.5 }),
    { type: 'rect', silent: true, z: 9, shape: { x: 206, y: 62.5, width: 12, height: 5 }, style: { fill: '#ffffff' } },
    L(209, 65, 216, 59.5, 1.1), L(209, 70, 216, 64.5, 1.1));
  // C
  graphic.push(L(335, 216, 335, 15, 1.3), P([[335, 8], [331.5, 17], [338.5, 17]]),
    L(335, 216, 561, 216, 1.3), P([[568, 216], [559, 212.5], [559, 219.5]]),
    T('days', 339, 224, { size: 12 }), T('relative cell # (OD)', 325, 157, { rot: Math.PI / 2, align: 'center', size: 12 }));
  // D
  graphic.push(T('% early apoptosis', 588, 60, { rot: Math.PI / 2, align: 'center', size: 12 }), T('(AxV+7AAD-)', 601, 58, { rot: Math.PI / 2, align: 'center', size: 12 }));
  // E
  graphic.push(L(25, 440, 25, 239, 1.3), P([[25, 231], [21.5, 240], [28.5, 240]]),
    L(25, 440, 263, 440, 1.3), P([[271, 440], [262, 436.5], [262, 443.5]]),
    T('-log\u2081\u2080(FDR)', 13, 408, { rot: Math.PI / 2, align: 'center', size: 12 }), T('log\u2082FC', 29, 452, { size: 12 }));
  // F: Venn (drawn in the stacking order of the reference)
  const vFills = ['rgba(30,184,236,0.5)', 'rgba(233,56,26,0.6)', 'rgba(44,196,236,0.5)', 'rgba(176,66,226,0.5)'];
  const vCenters = [[372, 352], [391.7, 329.5], [396.3, 329.5], [416, 352]];
  const vRot = [-Math.PI / 4, -Math.PI / 4, Math.PI / 4, Math.PI / 4];
  [2, 1, 3, 0].forEach((i) => {
    const c = vCenters[i];
    graphic.push({ type: 'rect', silent: true, z: 5, x: c[0], y: c[1], rotation: vRot[i], shape: { x: -58, y: -30, width: 116, height: 60, r: 30 }, style: { fill: vFills[i], stroke: INK, lineWidth: 1.4 } });
  });
  const vPos = [[333, 333], [374, 291], [416, 291], [452, 333], [352, 311], [395, 311], [432, 311], [374, 327], [418, 327], [354, 354], [396, 350], [435, 354], [372, 372], [413, 372], [394, 390]];
  vennCounts.forEach((n, i) => graphic.push(T(String(n), vPos[i][0], vPos[i][1], { align: 'center', size: 12 })));
  graphic.push(T(vennNames[0], 343, 297, { align: 'right', size: 12 }), T(vennNames[1], 350, 273, { align: 'center', size: 12 }),
    T(vennNames[2], 435, 273, { align: 'center', size: 12 }), T(vennNames[3], 447, 297, { size: 12 }));
  // G legend
  graphic.push(T('genes', 676, 297, { size: 15, fill: '#222' }));
  const gLegY = [318, 336, 353, 370];
  gLegendVals.forEach((v, i) => {
    graphic.push({ type: 'circle', silent: true, z: 10, shape: { cx: 687, cy: gLegY[i], r: gSize(v) / 2 }, style: { fill: 'none', stroke: '#222', lineWidth: 0.8 } });
    graphic.push(T(String(v), 701, gLegY[i], { size: 12, fill: '#222' }));
  });

  return { animation: false, backgroundColor: '#ffffff', textStyle: { fontFamily: FONT }, grid, xAxis, yAxis, series, legend, graphic, tooltip: { show: false } };
}

export default function App() {
  const ref = useRef<HTMLDivElement>(null);
  useEffect(() => {
    const chart = echarts.init(ref.current as HTMLDivElement, null, { renderer: 'svg' });
    chart.setOption(buildOption() as any);
    return () => chart.dispose();
  }, []);
  return <div ref={ref} style={{ position: 'absolute', left: 0, top: 0, width: 727, height: 465, background: '#fff' }} />;
}
